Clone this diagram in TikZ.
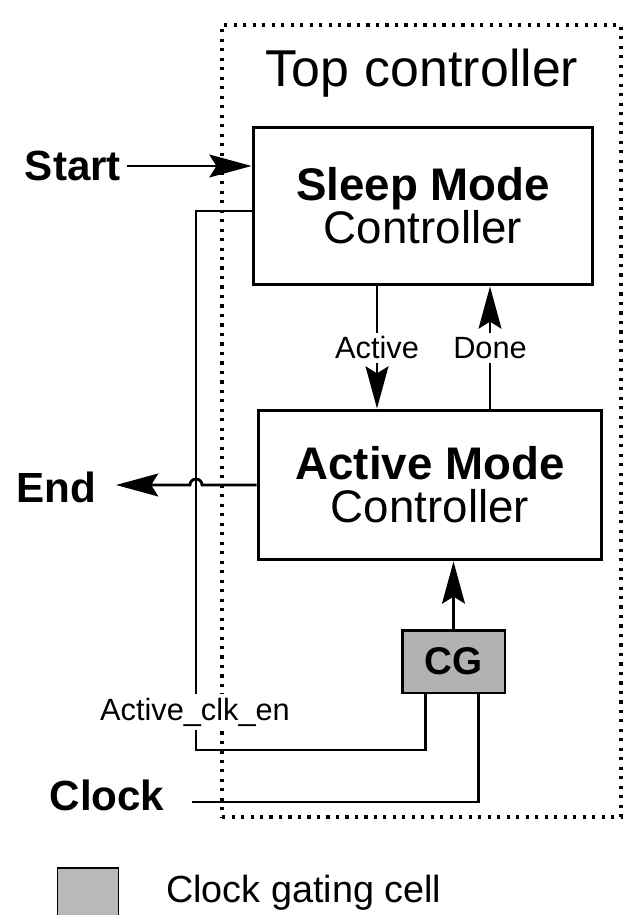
\documentclass[tikz,border=0pt]{standalone}
\usepackage{fontspec}
\setmainfont{Liberation Sans}
\usetikzlibrary{arrows.meta,calc}

\begin{document}
\begin{tikzpicture}[
  x=0.02cm, y=-0.02cm,
  block/.style={draw, line width=1.7pt, align=center, font=\fontsize{26}{24.5}\selectfont},
  frame/.style={draw, line width=1.8pt, dash pattern=on 1.8pt off 3.6pt},
  gate/.style={draw, line width=1.7pt, fill=gray!60, font=\fontsize{22}{24}\selectfont\bfseries},
  biglbl/.style={font=\fontsize{24}{26}\selectfont\bfseries},
  smalllbl/.style={font=\fontsize{17.5}{19}\selectfont, inner sep=2pt},
  wire/.style={line width=1.6pt},
  arrow/.style={wire, -{Stealth[length=24pt,width=13pt,inset=4pt]}}
]
\useasboundingbox (0,0) rectangle (627,915);

% Top controller frame
\node[frame, minimum width=7.98cm, minimum height=15.84cm] (top) at (421.5,421) {};
\node[font=\fontsize{29.5}{31}\selectfont] (title) at (422,73) {Top\hspace{0.3em}controller};

% Controllers
\node[block, minimum width=6.8cm, minimum height=3.16cm] (sleep) at (423,206)
  {\textbf{Sleep Mode}\\Controller};
\node[block, minimum width=6.88cm, minimum height=3.0cm] (active) at (430,485)
  {\textbf{Active Mode}\\Controller};
\node[gate, minimum width=2.06cm, minimum height=1.26cm] (cg) at (453.5,661.5) {CG};

% Outside signals
\node[biglbl] (start) at (73,166) {Start};
\node[biglbl] (endlbl) at (56,487) {End};
\node[biglbl] (clock) at (107,795) {Clock};
\coordinate (enbend) at (196,750);
\coordinate (clkin) at (192,802);

% Handshake
\node[smalllbl] (act) at (377,348) {Active};
\node[smalllbl] (done) at (490,348) {Done};
\draw[arrow] (sleep.south -| act) -- (act) -- (active.north -| act);
\draw[arrow] (active.north -| done) -- (done) -- (sleep.south -| done);

% Wires
\draw[arrow] (start.east) -- (start.east -| sleep.west);
\draw[wire] ($(sleep.west)+(0,5)$) -| (enbend) -| ([xshift=-0.56cm]cg.south);
\draw[arrow] (active.west) -- ($(active.west -| enbend)+(6,0)$)
  arc[start angle=0, end angle=-180, radius=6] -- ($(endlbl.east |- active.west)+(14,0)$);
\draw[wire] (clkin) -| ([xshift=0.5cm]cg.south);
\draw[arrow] (cg.north) -- (cg.north |- active.south);
\node[smalllbl, fill=white] (enlbl) at (195,712) {Active\_clk\_en};

% Legend
\node[draw, line width=1pt, fill=gray!55, minimum width=1.22cm, minimum height=1.0cm] (key) at (88,893) {};
\node[anchor=west, font=\fontsize{21.5}{23}\selectfont] (keylbl) at (160,893) {Clock gating cell};
\end{tikzpicture}
\end{document}
